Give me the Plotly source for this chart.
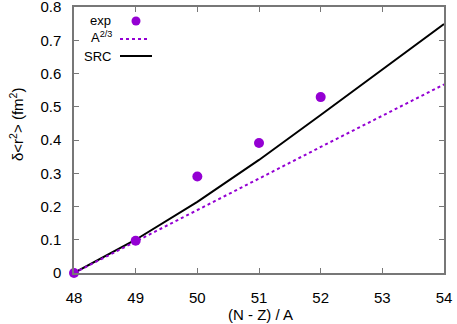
import plotly.graph_objects as go

x_exp = [48, 49, 50, 51, 52]
y_exp = [0.0, 0.097, 0.29, 0.391, 0.529]

x_th = [48, 49, 50, 51, 52, 53, 54]
y_a23 = [0.0, 0.094, 0.189, 0.284, 0.379, 0.473, 0.567]
y_src = [0.0, 0.100, 0.214, 0.340, 0.475, 0.612, 0.749]

x_ticks = [48, 49, 50, 51, 52, 53, 54]
y_ticks = [0, 0.1, 0.2, 0.3, 0.4, 0.5, 0.6, 0.7, 0.8]
y_ticktext = ["0", "0.1", "0.2", "0.3", "0.4", "0.5", "0.6", "0.7", "0.8"]

violet = "#9400D3"
font = "Liberation Sans, Arial, sans-serif"

fig = go.Figure()
fig.add_trace(go.Scatter(x=x_th, y=y_src, mode="lines", line=dict(color="black", width=2), name="SRC"))
fig.add_trace(go.Scatter(x=x_th, y=y_a23, mode="lines", line=dict(color=violet, width=2, dash="3px,3px"), name="A2/3"))
fig.add_trace(go.Scatter(x=x_exp, y=y_exp, mode="markers", marker=dict(color=violet, size=10), name="exp", cliponaxis=False))

W, H = 457, 324
L, R, T, B = 74, 13, 7, 51
pw, ph = W - L - R, H - T - B

def px(x):
    return (x - L) / pw

def py(y):
    return 1 - (y - T) / ph

shapes = [
    dict(type="circle", xref="paper", yref="paper", x0=px(131.5), x1=px(140.5), y0=py(25.5), y1=py(16.5),
         fillcolor=violet, line=dict(width=0)),
    dict(type="line", xref="paper", yref="paper", x0=px(120), x1=px(148), y0=py(39), y1=py(39),
         line=dict(color=violet, width=2, dash="3px,3px")),
    dict(type="line", xref="paper", yref="paper", x0=px(120), x1=px(152), y0=py(56), y1=py(56),
         line=dict(color="black", width=2)),
]
lf = dict(size=13, family=font, color="black")
annotations = [
    dict(text="exp", x=px(113), y=py(21), xref="paper", yref="paper", xanchor="right", yanchor="middle",
         showarrow=False, font=lf),
    dict(text="A<sup>2/3</sup>", x=px(114), y=py(37), xref="paper", yref="paper", xanchor="right", yanchor="middle",
         showarrow=False, font=lf),
    dict(text="SRC", x=px(113), y=py(56), xref="paper", yref="paper", xanchor="right", yanchor="middle",
         showarrow=False, font=lf),
    dict(text="(N - Z) / A", x=px(260), y=py(314), xref="paper", yref="paper", xanchor="center", yanchor="middle",
         showarrow=False, font=dict(size=15, family=font, color="black")),
    dict(text="δ<r<sup>2</sup>> (fm<sup>2</sup>)", x=px(17), y=py(125), xref="paper", yref="paper",
         xanchor="center", yanchor="middle", textangle=-90,
         showarrow=False, font=dict(size=15, family=font, color="black")),
]

axis_common = dict(showgrid=False, zeroline=False, showline=True, linecolor="#777", linewidth=1.5,
                   mirror="ticks", ticks="inside", ticklen=5, tickcolor="#777", automargin=False,
                   ticklabeloverflow="allow",
                   tickfont=dict(size=15, family=font, color="black"))

fig.update_layout(
    width=W, height=H,
    margin=dict(l=L, r=R, t=T, b=B),
    paper_bgcolor="white", plot_bgcolor="white",
    showlegend=False,
    shapes=shapes, annotations=annotations,
    xaxis=dict(range=[48, 54], tickvals=x_ticks, ticktext=[str(v) for v in x_ticks],
               ticklabelstandoff=10, **axis_common),
    yaxis=dict(range=[0, 0.8], tickvals=y_ticks, ticktext=y_ticktext,
               ticklabelstandoff=8, **axis_common),
)

fig.write_html("out.html", config={"displayModeBar": False},
               post_script="document.body.style.margin='0';document.body.style.overflow='hidden';")
